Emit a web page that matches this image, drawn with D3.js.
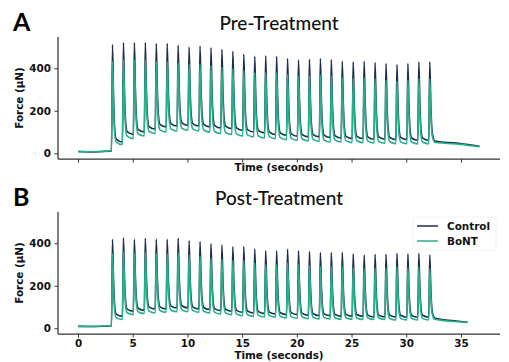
<!DOCTYPE html>
<html>
<head>
<meta charset="utf-8">
<script src="https://cdn.jsdelivr.net/npm/d3@7"></script>
<style>
  body { margin: 0; background: #fff; }
  svg { display: block; }
</style>
</head>
<body>
<div id="chart"></div>
<script>
// pulse peak times (s), both panels
const pulseTimes = [3.15, 4.15, 5.15, 6.15, 7.15, 8.15, 9.15, 10.15, 11.15, 12.15,
  13.15, 14.15, 15.15, 16.15, 17.15, 18.15, 19.15, 20.15, 21.15, 22.15,
  23.15, 24.15, 25.15, 26.15, 27.15, 28.15, 29.15, 30.15, 31.15, 32.15];

// Pre-treatment: peak force and resting level after each pulse (µN)
const preControlPeaks = [511, 521, 521, 521, 516, 516, 508, 500, 505, 496, 489, 480, 466, 456, 458,
  456, 446, 438, 442, 446, 441, 433, 430, 433, 427, 422, 417, 422, 430, 430];
const preBontPeaks = [432, 440, 440, 438, 432, 430, 425, 418, 420, 412, 405, 398, 388, 380, 380,
  378, 370, 362, 365, 368, 362, 356, 352, 355, 350, 345, 340, 345, 350, 350];
const preControlTroughs = [53, 89, 100, 113, 124, 128, 132, 128, 124, 119, 116, 108, 100, 96, 88,
  85, 80, 77, 77, 74, 72, 69, 69, 66, 66, 64, 64, 61, 61];
const preBontTroughs = [41, 69, 81, 93, 100, 105, 108, 105, 100, 93, 88, 81, 77, 72, 69,
  64, 61, 58, 56, 53, 53, 50, 50, 48, 47, 45, 45, 44, 44];

// Post-treatment
const postControlPeaks = [419, 426, 419, 423, 419, 419, 423, 412, 408, 397, 392, 383, 383, 373, 365,
  364, 372, 365, 361, 356, 356, 356, 350, 345, 348, 348, 353, 350, 353, 345];
const postBontPeaks = [352, 360, 352, 356, 352, 350, 355, 345, 340, 330, 325, 318, 318, 308, 300,
  300, 306, 300, 296, 290, 290, 290, 285, 280, 283, 283, 288, 285, 288, 280];
const postControlTroughs = [56, 80, 84, 91, 91, 96, 96, 91, 88, 83, 80, 75, 72, 69, 67,
  64, 64, 61, 59, 59, 56, 56, 56, 53, 53, 53, 52, 52, 52];
const postBontTroughs = [41, 64, 69, 72, 75, 78, 78, 75, 72, 67, 64, 59, 56, 53, 52,
  49, 47, 45, 44, 44, 42, 42, 41, 41, 41, 39, 39, 39, 39];

// resting baseline before stimulation and relaxation tail after it: [time, force]
const preControlBase = [[0, 8], [1.5, 6], [2.9, 10]];
const preBontBase = [[0, 9], [1.5, 7], [2.9, 11]];
const preControlTail = [[32.6, 58], [33.5, 52], [34.9, 46], [36.7, 33]];
const preBontTail = [[32.6, 52], [33.5, 47], [34.9, 42], [36.7, 31]];
const postControlBase = [[0, 9], [1.5, 8], [2.9, 11]];
const postBontBase = [[0, 10], [1.5, 9], [2.9, 12]];
const postControlTail = [[32.6, 48], [33.5, 40], [34.6, 34], [35.6, 28]];
const postBontTail = [[32.6, 42], [33.5, 36], [34.6, 31], [35.6, 27]];

const xTicks = [0, 5, 10, 15, 20, 25, 30, 35];
const yTicks = [0, 200, 400];
const seriesNames = ['Control', 'BoNT'];
const colors = { Control: '#1c2e4c', BoNT: '#25b08c' };

const width = 509;
const height = 362;
const marginLeft = 58;
const marginRight = 9;

// twitch shape template: offset from peak (s), fraction of (peak - rest) above rest
const shapeDt = [-0.09, 0, 0.1, 0.2, 0.34, 0.9];
const shapeFrac = [null, 1, 0.45, 0.14, 0.03, 0];

function buildTrace(base, peaks, troughs, tail) {
  const pts = base.slice();
  let prev = base[base.length - 1][1];
  pulseTimes.forEach((tp, i) => {
    const P = peaks[i];
    const L = i < troughs.length ? troughs[i] : tail[0][1];
    shapeDt.forEach((dt, k) => {
      if (k === 0) pts.push([tp + dt, prev]);
      else if (k === shapeDt.length - 1 && i === pulseTimes.length - 1) return;
      else pts.push([tp + dt, L + shapeFrac[k] * (P - L)]);
    });
    prev = L;
  });
  return pts.concat(tail);
}

const svg = d3.select('#chart')
  .append('svg')
  .attr('width', width)
  .attr('height', height)
  .style('font-family', "'DejaVu Sans', sans-serif");

const x = d3.scaleLinear()
  .domain([-1.83, 38.57])
  .range([marginLeft, width - marginRight]);

function drawPanel(top, bottom, title, letter, traces, showXLabels, showLegend, titleY, letterY) {
  const y = d3.scaleLinear()
    .domain([-27, 547])
    .range([bottom, top]);

  const line = d3.line()
    .x(d => x(d[0]))
    .y(d => y(d[1]))
    .curve(d3.curveMonotoneX);

  traces.forEach((t, i) => {
    svg.append('path')
      .datum(t)
      .attr('fill', 'none')
      .attr('stroke', colors[seriesNames[i]])
      .attr('stroke-width', 1.6)
      .attr('stroke-linejoin', 'round')
      .attr('d', line);
  });

  const yAxis = svg.append('g')
    .attr('transform', `translate(${marginLeft},0)`)
    .call(d3.axisLeft(y).tickValues(yTicks).tickSize(3.5).tickPadding(3.5));
  const xAxis = svg.append('g')
    .attr('transform', `translate(0,${bottom})`)
    .call(d3.axisBottom(x).tickValues(xTicks).tickSize(3.5).tickPadding(2)
      .tickFormat(showXLabels ? d3.format('d') : () => ''));

  [yAxis, xAxis].forEach(a => {
    a.select('.domain').attr('stroke', '#333').attr('stroke-width', 1.25);
    a.selectAll('.tick line').attr('stroke', '#333').attr('stroke-width', 1);
    a.selectAll('.tick text')
      .attr('fill', '#111')
      .style('font-size', '10.4px')
      .style('font-weight', 'bold')
      .style('font-family', "'DejaVu Sans', sans-serif");
  });
  // matplotlib-style spines: left + bottom, no end caps
  yAxis.select('.domain').attr('d', `M0,${top}V${bottom}`);
  xAxis.select('.domain').attr('d', `M${marginLeft},0H${width - marginRight}`);

  svg.append('text')
    .attr('transform', `translate(23,${(top + bottom) / 2}) rotate(-90)`)
    .attr('text-anchor', 'middle')
    .style('font-size', '10.4px')
    .style('font-weight', 'bold')
    .attr('fill', '#111')
    .text('Force (µN)');

  svg.append('text')
    .attr('x', (marginLeft + width - marginRight) / 2)
    .attr('y', showXLabels ? bottom + 24.5 : bottom + 11.5)
    .attr('text-anchor', 'middle')
    .style('font-size', '10.4px')
    .style('font-weight', 'bold')
    .attr('fill', '#111')
    .text('Time (seconds)');

  svg.append('text')
    .attr('x', (marginLeft + width - marginRight) / 2)
    .attr('y', titleY)
    .attr('text-anchor', 'middle')
    .style('font-family', 'Lato, sans-serif')
    .style('font-size', '19px')
    .style('font-weight', 500)
    .attr('fill', '#111')
    .text(title);

  svg.append('text')
    .attr('x', 13)
    .attr('y', letterY)
    .style('font-family', 'Lato, sans-serif')
    .style('font-size', '25px')
    .style('font-weight', 'bold')
    .attr('fill', '#000')
    .text(letter);

  if (showLegend) {
    const lg = svg.append('g').attr('transform', 'translate(413,217)');
    lg.append('rect')
      .attr('width', 83).attr('height', 33)
      .attr('rx', 2)
      .attr('fill', '#fff')
      .attr('stroke', '#f2f2f2');
    seriesNames.forEach((name, i) => {
      lg.append('line')
        .attr('x1', 4).attr('x2', 25)
        .attr('y1', 9 + i * 15).attr('y2', 9 + i * 15)
        .attr('stroke', colors[name])
        .attr('stroke-width', 1.5);
      lg.append('text')
        .attr('x', 34).attr('y', 9 + i * 15)
        .attr('dy', '0.35em')
        .style('font-size', '10.4px')
        .style('font-weight', 'bold')
        .attr('fill', '#111')
        .text(name);
    });
  }
}

drawPanel(37, 159, 'Pre-Treatment', 'A', [
  buildTrace(preControlBase, preControlPeaks, preControlTroughs, preControlTail),
  buildTrace(preBontBase, preBontPeaks, preBontTroughs, preBontTail)
], false, false, 30, 30.5);

drawPanel(212, 334, 'Post-Treatment', 'B', [
  buildTrace(postControlBase, postControlPeaks, postControlTroughs, postControlTail),
  buildTrace(postBontBase, postBontPeaks, postBontTroughs, postBontTail)
], true, true, 205, 206);
</script>
</body>
</html>
